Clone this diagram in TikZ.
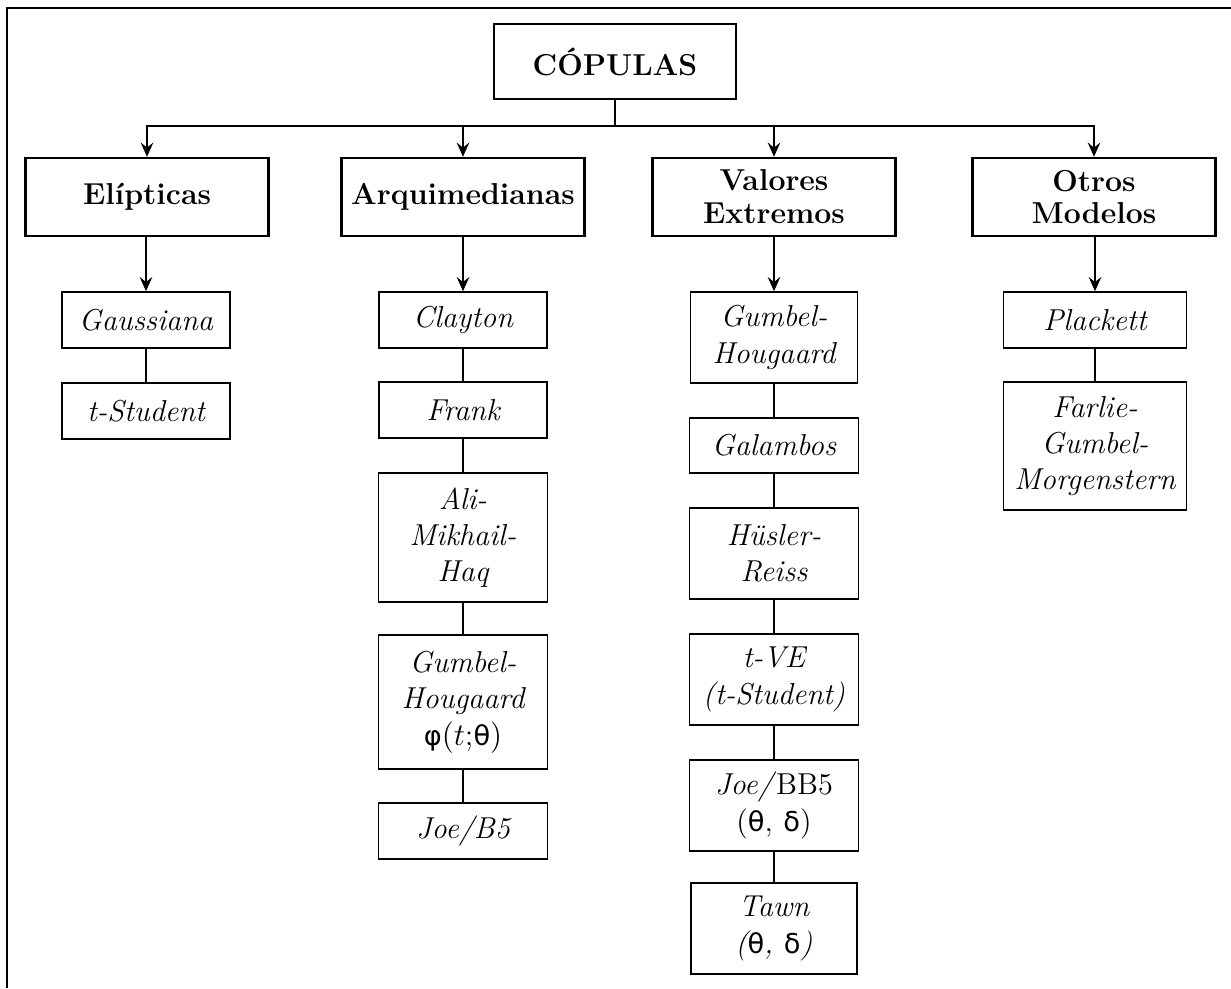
\documentclass[tikz,border=0pt]{standalone}
\usepackage{fontspec}
\newfontfamily\gkfont[Scale=0.9]{DejaVu Sans}
\newcommand\gr[1]{{\upshape\gkfont #1}}
\usetikzlibrary{arrows.meta}
\begin{document}
\begin{tikzpicture}[x=0.38023pt,y=-0.38023pt,
  box/.style={draw,align=center,inner sep=0pt},
  root/.style={box,line width=0.9pt,font=\bfseries\fontsize{11.5}{12.5}\selectfont,minimum width=92pt,minimum height=28.5pt},
  head/.style={box,line width=0.9pt,font=\bfseries\fontsize{11.5}{12.5}\selectfont,minimum width=92.4pt,minimum height=29.7pt},
  leaf/.style={box,line width=0.6pt,font=\itshape\fontsize{11.5}{13.8}\selectfont,minimum width=64pt,minimum height=21.3pt},
  arr/.style={line width=0.6pt,-{Stealth[length=5.4pt,width=4.8pt,inset=1.9pt]}},
  link/.style={line width=0.6pt},
  frame/.style={line width=0.8pt}]
\useasboundingbox (0,0) rectangle (1231,988);
\draw[frame] (7,988) -- (7,8) -- (1231,8);

% root
\node[root] (cop) at (615,61.5) {CÓPULAS};
\coordinate (bus) at (615,126);

% level 2
\node[head] (eli) at (147,197) {Elípticas};
\node[head] (arq) at (463,197) {Arquimedianas};
\node[head] (val) at (774,197) {Valores\\Extremos};
\node[head] (otr) at (1094,197) {Otros\\Modelos};

% column 1
\node[leaf,minimum width=63.9pt] (gau) at (146,320) {Gaussiana};
\node[leaf,minimum width=63.9pt] (tst) at (146,411) {t-Student};

% column 2
\node[leaf,minimum width=63.9pt] (cla) at (463,320) {Clayton};
\node[leaf,minimum width=63.9pt] (fra) at (463,410) {Frank};
\node[leaf,minimum width=64.3pt,minimum height=49.1pt] (ali) at (463,537.5) {Ali-\\Mikhail-\\Haq};
\node[leaf,minimum width=64.3pt,minimum height=51pt] (gha) at (463,702) {Gumbel-\\Hougaard\\{\upshape\gr{φ}$(t;$\gr{θ}$)$}};
\node[leaf,minimum width=64.3pt] (joe) at (463,831) {Joe/B5};

% column 3
\node[leaf,minimum width=63.5pt,minimum height=34.6pt] (ghv) at (774,337.5) {Gumbel-\\Hougaard};
\node[leaf,minimum width=64.3pt,minimum height=20.9pt] (gal) at (774,445.5) {Galambos};
\node[leaf,minimum width=64.3pt,minimum height=34.6pt] (hus) at (774,553.5) {Hüsler-\\Reiss};
\node[leaf,minimum width=64.3pt,minimum height=34.6pt] (tve) at (774,679.5) {t-VE\\(t-Student)};
\node[leaf,minimum width=64.3pt,minimum height=34.6pt] (jbb) at (774,805.5) {Joe/\textup{BB5}\\\textup{(}\gr{θ}\textup{,} \gr{δ}\textup{)}};
\node[leaf,minimum width=63.2pt,minimum height=34.6pt] (taw) at (774,928.5) {Tawn\\(\gr{θ}, \gr{δ})};

% column 4
\node[leaf,minimum width=69.6pt] (pla) at (1095,320) {Plackett};
\node[leaf,minimum width=69.6pt,minimum height=48.7pt] (far) at (1095,446) {Farlie-\\Gumbel-\\Morgenstern};

% connectors
\draw[link] (cop) -- (bus);
\draw[arr] (bus) -| (eli.north);
\draw[arr] (bus) -| (arq.north);
\draw[arr] (bus) -| (val.north);
\draw[arr] (bus) -| (otr.north);

\draw[arr] (eli.south -| gau.north) -- (gau.north);
\draw[arr] (arq.south -| cla.north) -- (cla.north);
\draw[arr] (val.south -| ghv.north) -- (ghv.north);
\draw[arr] (otr.south -| pla.north) -- (pla.north);

\draw[link] (gau) -- (tst);
\draw[link] (cla) -- (fra);
\draw[link] (fra) -- (ali);
\draw[link] (ali) -- (gha);
\draw[link] (gha) -- (joe);
\draw[link] (ghv) -- (gal);
\draw[link] (gal) -- (hus);
\draw[link] (hus) -- (tve);
\draw[link] (tve) -- (jbb);
\draw[link] (jbb) -- (taw);
\draw[link] (pla) -- (far);
\end{tikzpicture}
\end{document}
